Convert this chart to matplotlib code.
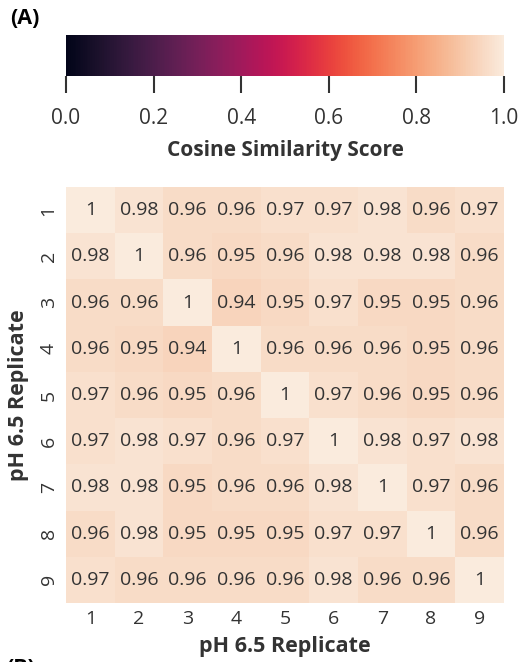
import numpy as np
import matplotlib
matplotlib.use("Agg")
import matplotlib.pyplot as plt
import seaborn as sns

replicates = ["1", "2", "3", "4", "5", "6", "7", "8", "9"]

# pairwise cosine similarity between pH 6.5 replicates
row1 = [1, 0.98, 0.96, 0.96, 0.97, 0.97, 0.98, 0.96, 0.97]
row2 = [0.98, 1, 0.96, 0.95, 0.96, 0.98, 0.98, 0.98, 0.96]
row3 = [0.96, 0.96, 1, 0.94, 0.95, 0.97, 0.95, 0.95, 0.96]
row4 = [0.96, 0.95, 0.94, 1, 0.96, 0.96, 0.96, 0.95, 0.96]
row5 = [0.97, 0.96, 0.95, 0.96, 1, 0.97, 0.96, 0.95, 0.96]
row6 = [0.97, 0.98, 0.97, 0.96, 0.97, 1, 0.98, 0.97, 0.98]
row7 = [0.98, 0.98, 0.95, 0.96, 0.96, 0.98, 1, 0.97, 0.96]
row8 = [0.96, 0.98, 0.95, 0.95, 0.95, 0.97, 0.97, 1, 0.96]
row9 = [0.97, 0.96, 0.96, 0.96, 0.96, 0.98, 0.96, 0.96, 1]

cbar_ticks = [0.0, 0.2, 0.4, 0.6, 0.8, 1.0]

sim = np.array([row1, row2, row3, row4, row5, row6, row7, row8, row9])

plt.rcParams["font.family"] = ["Open Sans", "DejaVu Sans"]
TXT = "#333333"

W, H = 532, 662
fig = plt.figure(figsize=(W / 100, H / 100), dpi=100)

cax = fig.add_axes([66 / W, 1 - 76 / H, 438 / W, 41 / H])
ax = fig.add_axes([66 / W, 1 - 603 / H, 438 / W, 416 / H])

sns.heatmap(
    sim, ax=ax, cbar_ax=cax, vmin=0, vmax=1,
    cmap=sns.color_palette("rocket", as_cmap=True),
    annot=True, fmt=".2g",
    annot_kws={"fontsize": 14, "color": TXT},
    cbar_kws={"orientation": "horizontal", "ticks": cbar_ticks},
    xticklabels=replicates, yticklabels=replicates,
)

ax.tick_params(axis="x", length=0, pad=5, labelsize=14, colors=TXT)
ax.tick_params(axis="y", length=0, pad=6, labelsize=14,
               colors=TXT, labelrotation=90)
for lbl in ax.get_yticklabels():
    lbl.set_va("center")
ax.set_xlabel("pH 6.5 Replicate", fontsize=15.5, fontweight="bold", color=TXT, labelpad=6)
ax.set_ylabel("pH 6.5 Replicate", fontsize=15.5, fontweight="bold", color=TXT, labelpad=8)

cb = ax.collections[0].colorbar
cb.outline.set_visible(False)
cax.tick_params(length=12, width=1.5, color=TXT, labelsize=15,
                labelcolor=TXT, pad=11)
cax.set_xticklabels(["0.0", "0.2", "0.4", "0.6", "0.8", "1.0"])
cax.set_xlabel("Cosine Similarity Score", fontsize=15, fontweight="bold",
               color=TXT, labelpad=8)

fig.text(10 / W, 1 - 18 / H, "(A)", fontsize=15.5, fontweight="bold",
         color="black", va="center", ha="left")
fig.text(6 / W, 1 - 668 / H, "(B)", fontsize=15.5, fontweight="bold",
         color="black", va="center", ha="left")

fig.savefig("out.png", dpi=100)
